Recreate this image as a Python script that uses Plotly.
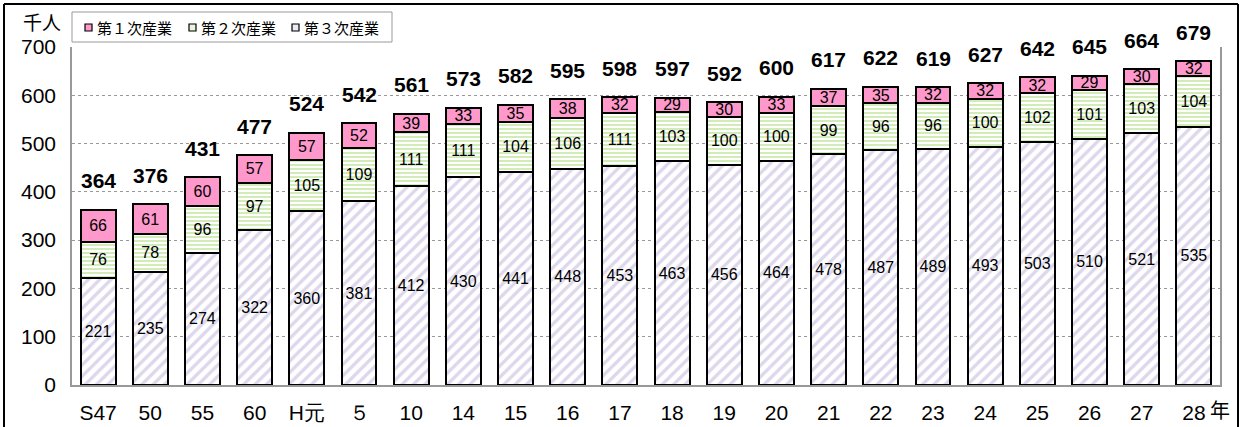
import plotly.graph_objects as go

categories = ["S47", "50", "55", "60", "H元", "５", "10", "14", "15", "16", "17",
              "18", "19", "20", "21", "22", "23", "24", "25", "26", "27", "28"]
tertiary = [221, 235, 274, 322, 360, 381, 412, 430, 441, 448, 453, 463, 456, 464,
            478, 487, 489, 493, 503, 510, 521, 535]
secondary = [76, 78, 96, 97, 105, 109, 111, 111, 104, 106, 111, 103, 100, 100,
             99, 96, 96, 100, 102, 101, 103, 104]
primary = [66, 61, 60, 57, 57, 52, 39, 33, 35, 38, 32, 29, 30, 33, 37, 35, 32,
           32, 32, 29, 30, 32]
totals = [364, 376, 431, 477, 524, 542, 561, 573, 582, 595, 598, 597, 592, 600,
          617, 622, 619, 627, 642, 645, 664, 679]
series_names = ["第１次産業", "第２次産業", "第３次産業"]
y_ticks = [0, 100, 200, 300, 400, 500, 600, 700]

W, H = 1240, 427
L, R, T, B = 72, 20, 47, 42
PW, PH = W - L - R, H - T - B

def px(x):
    return (x - L) / PW

def py(y):
    return (H - B - y) / PH

NARROW = "Liberation Sans Narrow, Arial Narrow, Liberation Sans, sans-serif"
SANS = "Liberation Sans, Arial, sans-serif"
JP = "Noto Sans CJK JP, sans-serif"

PINK = "#ff99cc"
GREEN = "#9ad660"
LAV = "#bcb0da"

xi = list(range(len(categories)))

fig = go.Figure()
fig.add_trace(go.Bar(
    x=xi, y=tertiary, name=series_names[2], text=tertiary,
    textposition="inside", insidetextanchor="middle", textangle=0,
    textfont=dict(family=SANS, size=16, color="black"),
    marker=dict(color="white", line=dict(color="black", width=2),
                pattern=dict(shape="/", fgcolor=LAV, bgcolor="white",
                             size=8, solidity=0.42)),
))
fig.add_trace(go.Bar(
    x=xi, y=secondary, name=series_names[1], text=secondary,
    textposition="inside", insidetextanchor="middle", textangle=0,
    textfont=dict(family=SANS, size=16, color="black"),
    marker=dict(color="white", line=dict(color="black", width=2),
                pattern=dict(shape="-", fgcolor=GREEN, bgcolor="white",
                             size=4, solidity=0.45)),
))
fig.add_trace(go.Bar(
    x=xi, y=primary, name=series_names[0], text=primary,
    textposition="inside", insidetextanchor="middle", textangle=0,
    textfont=dict(family=SANS, size=16, color="black"),
    marker=dict(color=PINK, line=dict(color="black", width=2)),
))

annotations = []
for i, (t, a, b, p) in enumerate(zip(totals, tertiary, secondary, primary)):
    annotations.append(dict(
        x=i, y=a + b + p, text=str(t), showarrow=False, yanchor="middle",
        yshift=29, font=dict(family=NARROW, size=21, color="black", weight="bold")))

annotations.append(dict(xref="paper", yref="paper", x=px(42), y=py(22), text="千人",
                        showarrow=False, xanchor="center", yanchor="middle",
                        font=dict(family=JP, size=19, color="black")))
annotations.append(dict(xref="paper", yref="paper", x=px(1220), y=py(409), text="年",
                        showarrow=False, xanchor="center", yanchor="middle",
                        font=dict(family=JP, size=20, color="black")))

shapes = [
    dict(type="line", xref="paper", yref="paper", x0=px(4), x1=px(1238), y0=py(4), y1=py(4),
         line=dict(color="black", width=2)),
    dict(type="line", xref="paper", yref="paper", x0=px(4), x1=px(4), y0=py(4), y1=py(440),
         line=dict(color="black", width=2)),
    dict(type="line", xref="paper", yref="paper", x0=px(1238), x1=px(1238), y0=py(4), y1=py(440),
         line=dict(color="black", width=2)),
    # legend box
    dict(type="rect", xref="paper", yref="paper", x0=px(72), x1=px(392), y0=py(12), y1=py(42),
         line=dict(color="#999999", width=1), fillcolor="white"),
]

legend_fill = [PINK, "#eaf6dc", "#ece8f4"]
icon_x = [85, 189, 292]
for name, fillc, ix in zip(series_names, legend_fill, icon_x):
    shapes.append(dict(type="rect", xref="paper", yref="paper",
                       x0=px(ix), x1=px(ix + 7), y0=py(24), y1=py(31),
                       line=dict(color="black", width=1.2), fillcolor=fillc))
    annotations.append(dict(xref="paper", yref="paper", x=px(ix + 10), y=py(27.5),
                            text=name, showarrow=False, xanchor="left", yanchor="middle",
                            font=dict(family=JP, size=15, color="black")))

fig.update_layout(
    width=W, height=H, barmode="stack", bargap=0.33,
    margin=dict(l=L, r=R, t=T, b=B, pad=0, autoexpand=False),
    paper_bgcolor="white", plot_bgcolor="white",
    showlegend=False,
    uniformtext=dict(minsize=16, mode="show"),
    xaxis=dict(range=[-0.5, len(categories) - 0.5], tickvals=xi, ticktext=categories,
               showline=True, linecolor="#999999", linewidth=1.5, automargin=False,
               ticks="", showgrid=False, ticklabelstandoff=8, zeroline=False,
               tickfont=dict(family=NARROW, size=21, color="black")),
    yaxis=dict(range=[0, 700], tickvals=y_ticks, showline=True, mirror=True,
               linecolor="#999999", linewidth=1.5, ticks="", automargin=False,
               showgrid=True, gridcolor="#999999", griddash="dot", gridwidth=1,
               ticklabelstandoff=10, zeroline=False,
               tickfont=dict(family=NARROW, size=21, color="black")),
    annotations=annotations, shapes=shapes,
)

fig.write_html("out.html", config={"displayModeBar": False},
               post_script="document.body.style.margin='0';document.body.style.overflow='hidden';")
